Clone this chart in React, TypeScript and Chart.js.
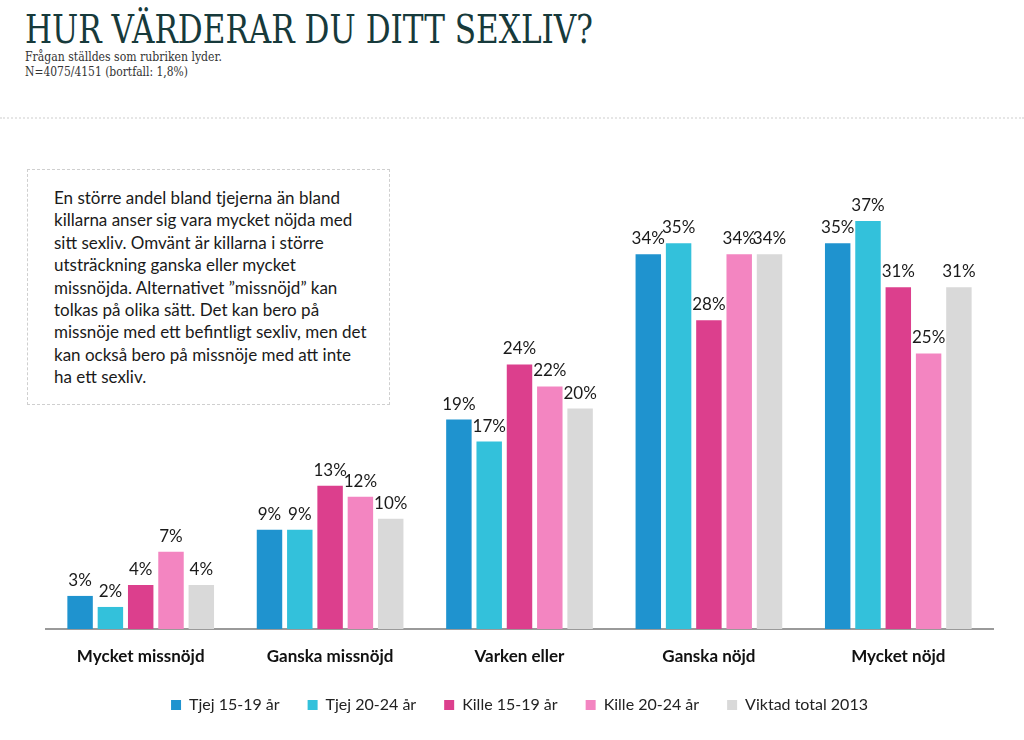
import React, { useEffect, useRef } from "react";
import { Chart, registerables } from "chart.js";

Chart.register(...registerables);

const categories = ["Mycket missnöjd", "Ganska missnöjd", "Varken eller", "Ganska nöjd", "Mycket nöjd"];
const seriesNames = ["Tjej 15-19 år", "Tjej 20-24 år", "Kille 15-19 år", "Kille 20-24 år", "Viktad total 2013"];
const tjej1519 = [3, 9, 19, 34, 35];
const tjej2024 = [2, 9, 17, 35, 37];
const kille1519 = [4, 13, 24, 28, 31];
const kille2024 = [7, 12, 22, 34, 25];
const viktad = [4, 10, 20, 34, 31];
const seriesColors = ["#1f93cf", "#33c1db", "#dc3f8d", "#f385c1", "#d9d9d9"];

const noteLines = [
  "En större andel bland tjejerna än bland",
  "killarna anser sig vara mycket nöjda med",
  "sitt sexliv. Omvänt är killarna i större",
  "utsträckning ganska eller mycket",
  "missnöjda. Alternativet ”missnöjd” kan",
  "tolkas på olika sätt. Det kan bero på",
  "missnöje med ett befintligt sexliv, men det",
  "kan också bero på missnöje med att inte",
  "ha ett sexliv.",
];

const FONT = "Lato, 'Open Sans', sans-serif";

const valueLabels = {
  id: "valueLabels",
  afterDatasetsDraw(chart: any) {
    const ctx = chart.ctx;
    ctx.save();
    ctx.font = "17px " + FONT;
    ctx.fillStyle = "#1a1a1a";
    ctx.textAlign = "center";
    ctx.textBaseline = "alphabetic";
    chart.data.datasets.forEach((ds: any, i: number) => {
      const meta = chart.getDatasetMeta(i);
      meta.data.forEach((bar: any, j: number) => {
        ctx.fillText(ds.data[j] + "%", bar.x, bar.y - 10);
      });
    });
    ctx.restore();
  },
};

export default function App() {
  const ref = useRef<HTMLCanvasElement>(null);
  useEffect(() => {
    if (!ref.current) return;
    const all = [tjej1519, tjej2024, kille1519, kille2024, viktad];
    const chart = new Chart(ref.current, {
      type: "bar",
      data: {
        labels: categories,
        datasets: all.map((d, i) => ({
          label: seriesNames[i],
          data: d,
          backgroundColor: seriesColors[i],
          borderWidth: 0,
          categoryPercentage: 0.8,
          barPercentage: 0.84,
        })),
      },
      options: {
        animation: false,
        responsive: false,
        events: [],
        layout: { padding: { left: 46, right: 31, top: 188, bottom: 17 } },
        plugins: {
          tooltip: { enabled: false },
          legend: {
            position: "bottom",
            labels: {
              boxWidth: 10,
              boxHeight: 10,
              padding: 28,
              color: "#222",
              font: { family: FONT, size: 16 },
            },
          },
        },
        scales: {
          x: {
            grid: { display: false, drawTicks: false },
            border: { display: true, color: "#9a9a9a", width: 2 },
            ticks: { color: "#111", padding: 17, font: { family: FONT, size: 17, weight: "bold" } },
            afterFit: (scale: any) => {
              scale.height = 40;
            },
          },
          y: { display: false, min: 0, max: 40 },
        },
      },
      plugins: [valueLabels],
    });
    return () => chart.destroy();
  }, []);

  return (
    <div style={{ position: "absolute", left: 0, top: 0, width: 1024, height: 740, background: "#fff", overflow: "hidden" }}>
      <svg style={{ position: "absolute", left: 0, top: 0 }} width={1024} height={90}>
        <text x={25} y={43} textLength={568} lengthAdjust="spacingAndGlyphs" fill="#173a3b"
          style={{ font: "40px 'DejaVu Serif', serif" }}>HUR VÄRDERAR DU DITT SEXLIV?</text>
        <text x={25} y={61} textLength={197} lengthAdjust="spacingAndGlyphs" fill="#333"
          style={{ font: "12px 'DejaVu Serif', serif" }}>Frågan ställdes som rubriken lyder.</text>
        <text x={25} y={76} textLength={163} lengthAdjust="spacingAndGlyphs" fill="#333"
          style={{ font: "12px 'DejaVu Serif', serif" }}>N=4075/4151  (bortfall: 1,8%)</text>
      </svg>
      <div style={{ position: "absolute", left: 0, top: 117, width: 1024, borderTop: "2px dotted #e6e6e6" }} />
      <canvas ref={ref} width={1024} height={740} style={{ position: "absolute", left: 0, top: 0 }} />
      <div style={{ position: "absolute", left: 27, top: 169, width: 363, height: 236, border: "1px dashed #cfcfcf", boxSizing: "border-box", background: "#fff" }}>
        <div style={{ position: "absolute", left: 26, top: 17, font: "17px " + FONT, lineHeight: "22.4px", color: "#1a1a1a", whiteSpace: "nowrap" }}>
          {noteLines.map((l, i) => (<div key={i}>{l}</div>))}
        </div>
      </div>
    </div>
  );
}
